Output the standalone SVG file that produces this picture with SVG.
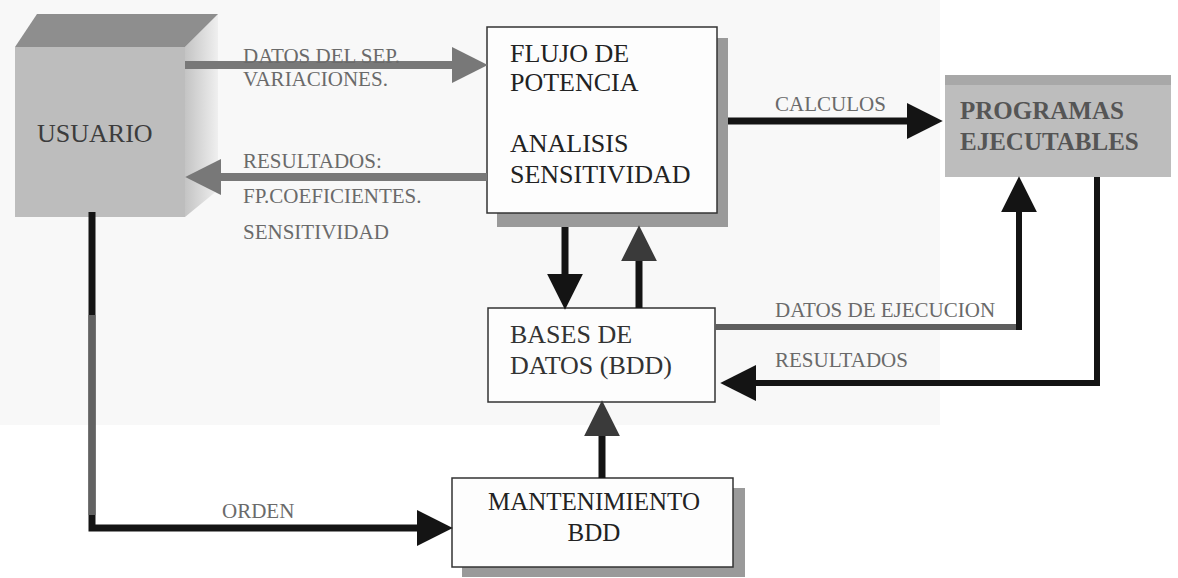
<svg xmlns="http://www.w3.org/2000/svg" width="1178" height="578" viewBox="0 0 1178 578">
<defs>
<style>
.box{fill:#fdfdfd;stroke:#333;stroke-width:1.5}
.shadow{fill:#9a9a9a}
.ntext{font-family:"Liberation Serif","Times New Roman",serif;font-size:26px;fill:#222}
.lbl{font-family:"Liberation Serif","Times New Roman",serif;font-size:21px;fill:#6a6a6a}
.blk{fill:none;stroke:#141414;stroke-width:7}
.gry{fill:none;stroke:#787878;stroke-width:8}
</style>
<marker id="ahB" markerUnits="userSpaceOnUse" markerWidth="36" markerHeight="36" viewBox="0 0 34 34" refX="4" refY="17" orient="auto">
<path d="M0,0 L34,17 L0,34 z" fill="#141414"/>
</marker>
<marker id="ahG" markerUnits="userSpaceOnUse" markerWidth="36" markerHeight="36" viewBox="0 0 34 34" refX="4" refY="17" orient="auto">
<path d="M0,0 L34,17 L0,34 z" fill="#787878"/>
</marker>
<marker id="ahD" markerUnits="userSpaceOnUse" markerWidth="36" markerHeight="36" viewBox="0 0 34 34" refX="4" refY="17" orient="auto">
<path d="M0,0 L34,17 L0,34 z" fill="#3a3a3a"/>
</marker>
<linearGradient id="side" x1="0" y1="0" x2="1" y2="0">
<stop offset="0" stop-color="#c4c4c4"/>
<stop offset="1" stop-color="#efefef"/>
</linearGradient>
</defs>
<rect x="0" y="0" width="1178" height="578" fill="#ffffff"/>
<rect x="0" y="0" width="940" height="425" fill="#f8f8f8"/>

<g id="usuario">
<polygon points="185,47 218,14 218,190 185,217" fill="url(#side)"/>
<polygon points="15,47 37,14 218,14 185,47" fill="#8e8e8e"/>
<rect x="15" y="47" width="170" height="170" fill="#bdbdbd"/>
<text class="ntext" x="37" y="142" style="fill:#3c3c3c">USUARIO</text>
</g>

<g id="flujo">
<rect class="shadow" x="497" y="38" width="231" height="189"/>
<rect class="box" x="487" y="27" width="230" height="186"/>
<text class="ntext" x="510" y="62">FLUJO DE</text>
<text class="ntext" x="510" y="91">POTENCIA</text>
<text class="ntext" x="510" y="152">ANALISIS</text>
<text class="ntext" x="510" y="183">SENSITIVIDAD</text>
</g>

<g id="programas">
<rect x="945" y="75" width="226" height="102" fill="#bdbdbd"/>
<rect x="945" y="75" width="226" height="10" fill="#a8a8a8"/>
<text class="ntext" x="960" y="119" style="font-weight:bold;font-size:25px;fill:#555">PROGRAMAS</text>
<text class="ntext" x="960" y="150" style="font-weight:bold;font-size:25px;fill:#555">EJECUTABLES</text>
</g>

<g id="bases">
<rect class="box" x="488" y="308" width="227" height="94"/>
<text class="ntext" x="510" y="343" style="fill:#333">BASES DE</text>
<text class="ntext" x="510" y="374" style="fill:#333">DATOS (BDD)</text>
</g>

<g id="mantenimiento">
<rect class="shadow" x="462" y="488" width="283" height="89"/>
<rect class="box" x="452" y="478" width="281" height="89"/>
<text class="ntext" x="594" y="510" text-anchor="middle" style="font-size:25px">MANTENIMIENTO</text>
<text class="ntext" x="594" y="541" text-anchor="middle" style="font-size:25px">BDD</text>
</g>

<g id="connectors">
<path class="gry" d="M185,65 H456" marker-end="url(#ahG)"/>
<path class="gry" d="M487,177 H217" marker-end="url(#ahG)"/>
<path class="blk" d="M728,121 H911" marker-end="url(#ahB)"/>
<path class="blk" d="M565,227 V278" marker-end="url(#ahB)"/>
<path class="blk" d="M639,308 V257" marker-end="url(#ahD)"/>
<path d="M715,327 H1019" fill="none" stroke="#5e5e5e" stroke-width="6"/>
<path class="blk" d="M1019,330 V208" style="stroke-width:6" marker-end="url(#ahB)"/>
<path class="blk" d="M1097,177 V383 H752" style="stroke-width:6" marker-end="url(#ahB)"/>
<path class="blk" d="M92,212 V528 H421" marker-end="url(#ahB)"/>
<path d="M92,315 V515" fill="none" stroke="#626262" stroke-width="7"/>
<path class="blk" d="M602,478 V432" marker-end="url(#ahD)"/>
<text class="lbl" x="243" y="63">DATOS DEL SEP.</text>
<text class="lbl" x="243" y="86">VARIACIONES.</text>
<text class="lbl" x="243" y="168">RESULTADOS:</text>
<text class="lbl" x="243" y="203">FP.COEFICIENTES.</text>
<text class="lbl" x="243" y="239">SENSITIVIDAD</text>
<text class="lbl" x="775" y="111">CALCULOS</text>
<text class="lbl" x="775" y="317">DATOS DE EJECUCION</text>
<text class="lbl" x="775" y="367">RESULTADOS</text>
<text class="lbl" x="222" y="518">ORDEN</text>
</g>
</svg>
